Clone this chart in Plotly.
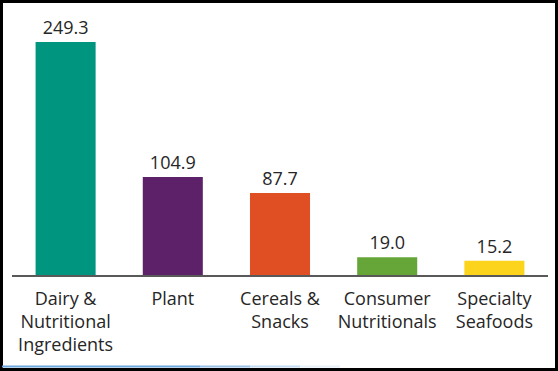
import plotly.graph_objects as go

categories = ["Dairy &<br>Nutritional<br>Ingredients", "Plant", "Cereals &<br>Snacks",
              "Consumer<br>Nutritionals", "Specialty<br>Seafoods"]
values = [249.3, 104.9, 87.7, 19.0, 15.2]
colors = ["#00957F", "#5C2169", "#E04F23", "#66A638", "#FCD41B"]

W, H = 558, 371
L, R, T, B = 12, 10, 20, 96
PW, PH = W - L - R, H - T - B
FONT = "Open Sans"

def px(x):
    return (x - L) / PW

def py(y):
    return (H - B - y) / PH

fig = go.Figure(go.Bar(
    x=categories, y=values, marker=dict(color=colors, line=dict(width=0)),
    texttemplate="%{y:.1f}", textposition="outside",
    textfont=dict(family=FONT, size=18, color="#262626"),
    cliponaxis=False, hoverinfo="skip",
))

shapes = []
# outer black border
for (x0, y0, x1, y1, w) in [(1.5, 0, 1.5, H, 3), (0, 1.5, W, 1.5, 3), (556.5, 0, 556.5, H, 3), (0, 369.5, W, 369.5, 3)]:
    shapes.append(dict(type="line", xref="paper", yref="paper", x0=px(x0), x1=px(x1), y0=py(y0), y1=py(y1),
                       line=dict(color="black", width=w)))
# faint blue line near bottom
segs = [(2, 200, 1.0), (200, 250, 0.7), (250, 300, 0.4), (300, 340, 0.15)]
for x0, x1, op in segs:
    shapes.append(dict(type="line", xref="paper", yref="paper", x0=px(x0), x1=px(x1), y0=py(366.5), y1=py(366.5),
                       line=dict(color="#6FA8DC", width=2), opacity=op))

fig.update_layout(
    width=W, height=H, margin=dict(l=L, r=R, t=T, b=B),
    paper_bgcolor="white", plot_bgcolor="white",
    bargap=0.44, showlegend=False, shapes=shapes,
    font=dict(family=FONT, size=18, color="#262626"),
    xaxis=dict(showline=True, linecolor="#595959", linewidth=2, ticks="", showgrid=False,
               ticklabelstandoff=6,
               tickfont=dict(family=FONT, size=18, color="#262626")),
    yaxis=dict(visible=False, range=[0, 272.8], showgrid=False, zeroline=False),
)
fig.write_html("out.html", config={"displayModeBar": False},
               post_script="document.body.style.margin='0';")
